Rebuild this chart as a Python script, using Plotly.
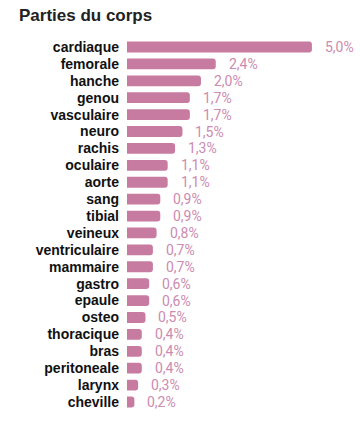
import plotly.graph_objects as go

categories = ["cardiaque", "femorale", "hanche", "genou", "vasculaire", "neuro", "rachis",
              "oculaire", "aorte", "sang", "tibial", "veineux", "ventriculaire", "mammaire",
              "gastro", "epaule", "osteo", "thoracique", "bras", "peritoneale", "larynx", "cheville"]
values = [5.0, 2.4, 2.0, 1.7, 1.7, 1.5, 1.3, 1.1, 1.1, 0.9, 0.9, 0.8, 0.7, 0.7, 0.6, 0.6, 0.5,
          0.4, 0.4, 0.4, 0.3, 0.2]
labels = [f"{v:.1f}%".replace(".", ",") for v in values]

bar_color = "#c77ba1"
label_color = "#cc8bb0"

fig = go.Figure(go.Bar(
    x=values, y=categories, orientation="h",
    marker=dict(color=bar_color, cornerradius=3, line=dict(width=0)),
    hoverinfo="skip",
))

for c, v, t in zip(categories, values, labels):
    fig.add_annotation(x=v, y=c, text=t, showarrow=False, xanchor="left", xshift=11,
                       font=dict(family="Roboto, Open Sans, sans-serif", size=14, color=label_color))

fig.update_layout(
    width=360, height=423,
    margin=dict(l=127, r=0, t=37, b=11),
    paper_bgcolor="white", plot_bgcolor="white",
    bargap=0.36,
    showlegend=False,
    title=dict(text="<b>Parties du corps</b>", x=0, xref="container", xanchor="left",
               y=1, yref="container", yanchor="top", pad=dict(t=9, l=19),
               font=dict(family="Liberation Sans, Arial, sans-serif", size=17, color="#222222")),
    xaxis=dict(range=[0, 6.3], visible=False, fixedrange=True),
    yaxis=dict(autorange="reversed", showgrid=False, zeroline=False, showline=False,
               tickmode="array", tickvals=categories, ticktext=categories,
               ticks="", ticklabelstandoff=7,
               tickfont=dict(family="Liberation Sans, Arial, sans-serif", size=14, color="#111111",
                             weight="bold")),
)

fig.write_html("out.html")
